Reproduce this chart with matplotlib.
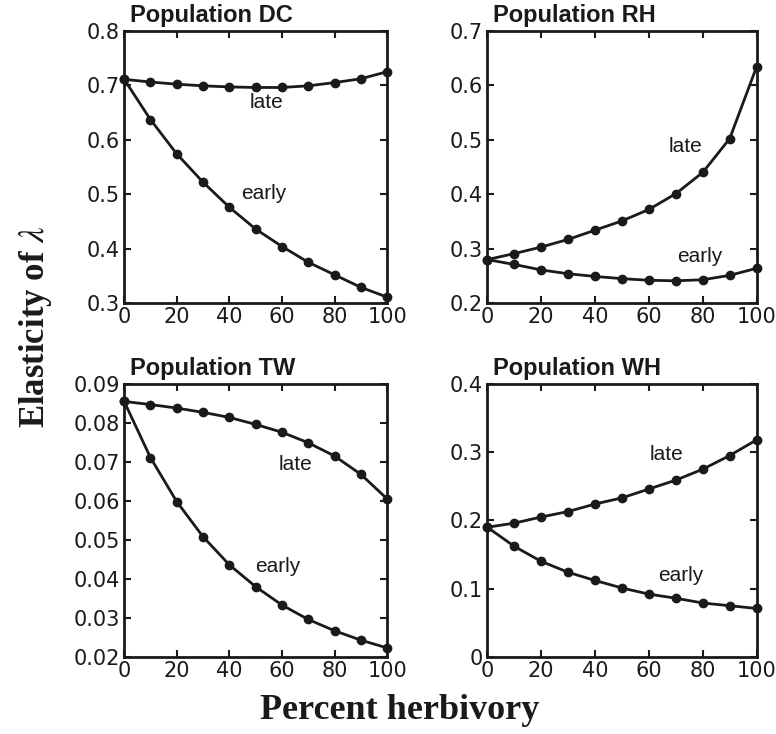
import matplotlib
matplotlib.use("Agg")
import matplotlib.pyplot as plt

plt.rcParams["mathtext.fontset"] = "stix"

# percent herbivory
herbivory = [0, 10, 20, 30, 40, 50, 60, 70, 80, 90, 100]

dc_late = [0.711, 0.706, 0.702, 0.699, 0.697, 0.696, 0.696, 0.699, 0.705, 0.712, 0.725]
dc_early = [0.711, 0.637, 0.574, 0.522, 0.476, 0.436, 0.404, 0.375, 0.352, 0.329, 0.311]

rh_late = [0.280, 0.291, 0.303, 0.317, 0.334, 0.351, 0.372, 0.401, 0.440, 0.502, 0.634]
rh_early = [0.280, 0.271, 0.261, 0.254, 0.249, 0.245, 0.242, 0.241, 0.243, 0.251, 0.264]

tw_late = [0.0855, 0.0847, 0.0838, 0.0827, 0.0814, 0.0796, 0.0776, 0.0749, 0.0715, 0.0668, 0.0605]
tw_early = [0.0855, 0.0711, 0.0598, 0.0508, 0.0436, 0.0380, 0.0333, 0.0296, 0.0267, 0.0243, 0.0223]

wh_late = [0.190, 0.196, 0.205, 0.213, 0.224, 0.233, 0.246, 0.259, 0.275, 0.295, 0.318]
wh_early = [0.190, 0.162, 0.140, 0.124, 0.112, 0.101, 0.092, 0.086, 0.079, 0.075, 0.071]

titles = ["Population DC", "Population RH", "Population TW", "Population WH"]
y_limits = [(0.3, 0.8), (0.2, 0.7), (0.02, 0.09), (0.0, 0.4)]
y_ticks = [
    [0.3, 0.4, 0.5, 0.6, 0.7, 0.8],
    [0.2, 0.3, 0.4, 0.5, 0.6, 0.7],
    [0.02, 0.03, 0.04, 0.05, 0.06, 0.07, 0.08, 0.09],
    [0, 0.1, 0.2, 0.3, 0.4],
]
y_ticklabels = [
    ["0.3", "0.4", "0.5", "0.6", "0.7", "0.8"],
    ["0.2", "0.3", "0.4", "0.5", "0.6", "0.7"],
    ["0.02", "0.03", "0.04", "0.05", "0.06", "0.07", "0.08", "0.09"],
    ["0", "0.1", "0.2", "0.3", "0.4"],
]
series = [(dc_late, dc_early), (rh_late, rh_early), (tw_late, tw_early), (wh_late, wh_early)]
# label positions (data coords): late, early
late_pos = [(54, 0.669), (73.5, 0.487), (65, 0.0694), (66.5, 0.296)]
early_pos = [(53, 0.502), (79, 0.285), (58.5, 0.0432), (72, 0.119)]

# axes boxes in figure fractions [left, bottom, width, height]
boxes = [
    [0.160, 0.587, 0.339, 0.371],
    [0.628, 0.587, 0.347, 0.371],
    [0.160, 0.105, 0.339, 0.372],
    [0.628, 0.105, 0.347, 0.372],
]

fig = plt.figure(figsize=(7.76, 7.34), dpi=100)

for i in range(4):
    ax = fig.add_axes(boxes[i])
    late, early = series[i]
    ax.plot(herbivory, late, color="#1a1a1a", linewidth=2, marker="o", markersize=6,
            clip_on=False, zorder=3)
    ax.plot(herbivory, early, color="#1a1a1a", linewidth=2, marker="o", markersize=6,
            clip_on=False, zorder=3)

    ax.set_xlim(0, 100)
    ax.set_ylim(*y_limits[i])
    ax.set_xticks([0, 20, 40, 60, 80, 100])
    ax.set_xticklabels(["0", "20", "40", "60", "80", "100"], fontsize=15, family="DejaVu Sans")
    ax.set_yticks(y_ticks[i])
    ax.set_yticklabels(y_ticklabels[i], fontsize=15, family="DejaVu Sans")
    ax.tick_params(direction="in", top=True, right=True, length=5, width=1.5, pad=3,
                   colors="#1a1a1a")
    for sp in ax.spines.values():
        sp.set_linewidth(2)
        sp.set_color("#1a1a1a")

    ax.text(0.022, 1.015, titles[i], transform=ax.transAxes, ha="left", va="bottom",
            fontsize=17, fontweight="bold", family="Liberation Sans", color="#1a1a1a")
    ax.text(late_pos[i][0], late_pos[i][1], "late", ha="center", va="center",
            fontsize=15, family="Liberation Sans", color="#1a1a1a")
    ax.text(early_pos[i][0], early_pos[i][1], "early", ha="center", va="center",
            fontsize=15, family="Liberation Sans", color="#1a1a1a")

fig.text(0.046, 0.555, r"Elasticity of $\lambda$", rotation=90, ha="center", va="center",
         fontsize=25, fontweight="bold", family="Liberation Serif", color="#1a1a1a")
fig.text(0.515, 0.032, "Percent herbivory", ha="center", va="center",
         fontsize=26, fontweight="bold", family="Liberation Serif", color="#1a1a1a")

fig.savefig("out.png", dpi=100)
